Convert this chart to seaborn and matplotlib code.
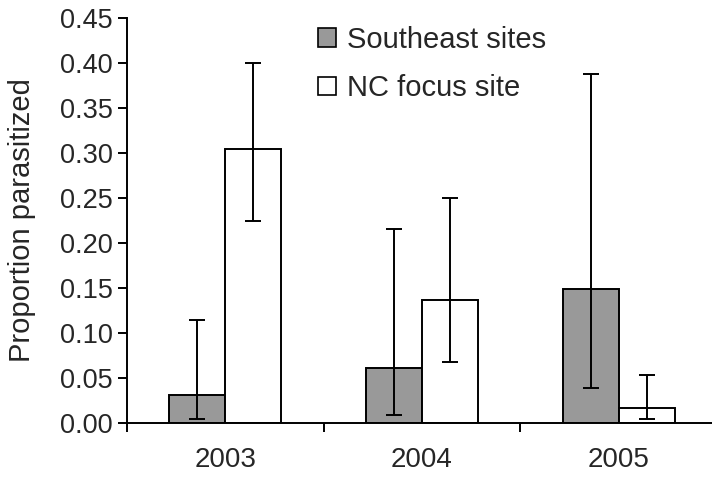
import matplotlib
matplotlib.use("Agg")
import matplotlib.pyplot as plt
import seaborn as sns
import pandas as pd
import numpy as np
from matplotlib.ticker import FixedLocator, FormatStrFormatter

years = ["2003", "2004", "2005"]
series = ["Southeast sites", "NC focus site"]
southeast = [0.031, 0.061, 0.149]
southeast_lo = [0.005, 0.009, 0.039]
southeast_hi = [0.115, 0.216, 0.388]
nc_focus = [0.304, 0.137, 0.017]
nc_lo = [0.224, 0.068, 0.005]
nc_hi = [0.400, 0.250, 0.053]
yticks = [0.00, 0.05, 0.10, 0.15, 0.20, 0.25, 0.30, 0.35, 0.40, 0.45]

df = pd.DataFrame({
    "year": years * 2,
    "group": [series[0]] * 3 + [series[1]] * 3,
    "value": southeast + nc_focus,
    "lo": southeast_lo + nc_lo,
    "hi": southeast_hi + nc_hi,
})

sns.set_style("white")
plt.rcParams["font.family"] = ["Liberation Sans", "DejaVu Sans"]

fig = plt.figure(figsize=(7.12, 4.79), dpi=100)
ax = fig.add_axes([127 / 712, 56 / 479, 1 - 127 / 712, 405 / 479])

sns.barplot(data=df, x="year", y="value", hue="group", order=years,
            hue_order=series, palette={series[0]: "#999999", series[1]: "white"},
            edgecolor="black", linewidth=1.4, width=0.57, gap=0,
            errorbar=None, ax=ax, legend=True)

# error bars at bar centers
for container, grp in zip(ax.containers, series):
    sub = df[df["group"] == grp].set_index("year").loc[years]
    xs = [p.get_x() + p.get_width() / 2 for p in container.patches]
    vals = sub["value"].values
    yerr = np.vstack([vals - sub["lo"].values, sub["hi"].values - vals])
    ax.errorbar(xs, vals, yerr=yerr, fmt="none", ecolor="black",
                elinewidth=1.4, capsize=6, capthick=1.4, zorder=5)

ax.set_ylim(0, 0.45)
ax.set_xlim(-0.5, 2.475)
ax.yaxis.set_major_locator(FixedLocator(yticks))
ax.yaxis.set_major_formatter(FormatStrFormatter("%.2f"))
ax.set_xlabel("")
ax.set_ylabel("Proportion parasitized", fontsize=21, labelpad=17)

ax.set_xticks(range(len(years)))
ax.set_xticklabels(years)
ax.set_xticks([-0.5, 0.5, 1.5], minor=True)
ax.tick_params(axis="x", which="major", length=0, pad=17, labelsize=20)
ax.tick_params(axis="x", which="minor", length=6.5, width=1.4, direction="out",
               bottom=True, color="black")
ax.tick_params(axis="y", which="major", length=6.5, width=1.4, direction="out",
               left=True, pad=4, labelsize=19.5, color="black")

for s in ["top", "right"]:
    ax.spines[s].set_visible(False)
for s in ["left", "bottom"]:
    ax.spines[s].set_color("black")
    ax.spines[s].set_linewidth(1.4)

ax.get_legend().remove()
handles = [plt.Rectangle((0, 0), 1, 1, facecolor="#999999", edgecolor="black", linewidth=1.2),
           plt.Rectangle((0, 0), 1, 1, facecolor="white", edgecolor="black", linewidth=1.2)]
fig.legend(handles, series, loc="upper left", bbox_to_anchor=(318 / 712, 1 - 26 / 479),
           frameon=False, fontsize=21, handlelength=0.6, handleheight=0.6,
           handletextpad=0.4, labelspacing=0.7, borderpad=0, borderaxespad=0)

fig.savefig("out.png", dpi=100)
